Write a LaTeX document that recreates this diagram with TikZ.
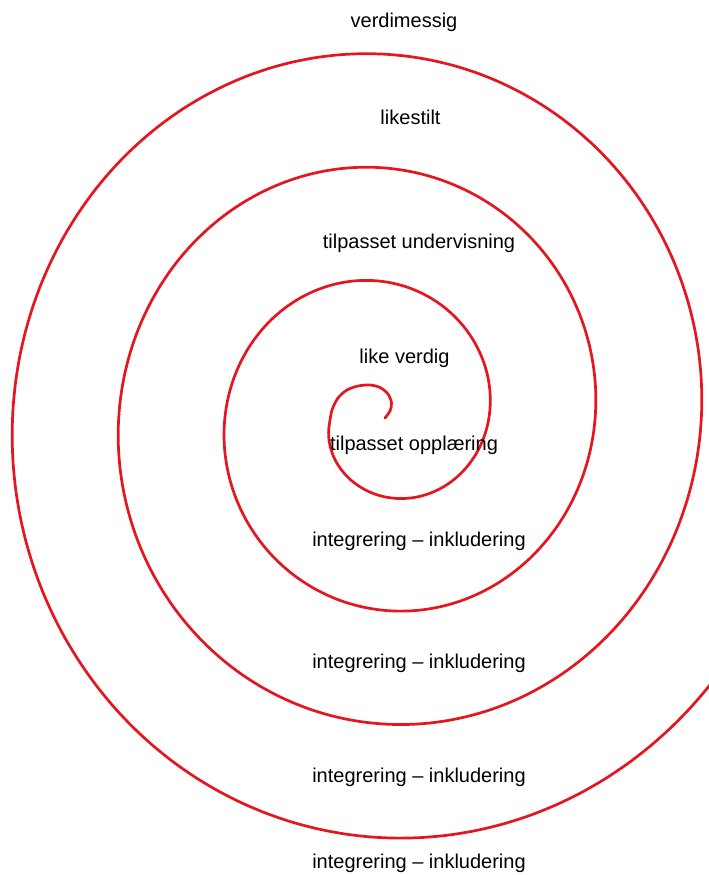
\documentclass[tikz,border=0pt]{standalone}
\usepackage{fontspec}
\setmainfont{Liberation Sans}
\definecolor{spiralred}{RGB}{228,22,32}
\tikzset{
  spiral/.style={draw=spiralred, line width=2.7pt, line cap=round, line join=round},
  lbl/.style={anchor=base, inner sep=0pt, text=black, font=\fontsize{20}{24}\selectfont}
}
\begin{document}
\begin{tikzpicture}[x=1pt,y=-1pt]
\useasboundingbox (0,0) rectangle (709,875);
\fill[white] (0,0) rectangle (709,875);
\begin{scope}
\clip (0,0) rectangle (709,875);
\draw[spiral] plot[smooth] coordinates {(385,418) (390,411) (391.5,403) (388,394) (380,387.5) (370,385) (358,386) (347,390) (338,398) (332,410) (329.25,425)}
  -- plot[smooth, domain=-3:18.6, samples=320] ({383.5+(105.5+16.9*\x)*cos(\x r)}, {417.5-(107.5+18.1*\x)*sin(\x r)});
\end{scope}
\node[lbl] (t1) at (404,28) {verdimessig};
\node[lbl] (t2) at (410.5,124) {likestilt};
\node[lbl] (t3) at (419,248) {tilpasset undervisning};
\node[lbl] (t4) at (404.5,363) {like verdig};
\node[lbl] (t5) at (414,450) {tilpasset opplæring};
\node[lbl] (t6) at (419,546) {integrering – inkludering};
\node[lbl] (t7) at (419,668) {integrering – inkludering};
\node[lbl] (t8) at (419,782) {integrering – inkludering};
\node[lbl] (t9) at (419,868) {integrering – inkludering};
\end{tikzpicture}
\end{document}
